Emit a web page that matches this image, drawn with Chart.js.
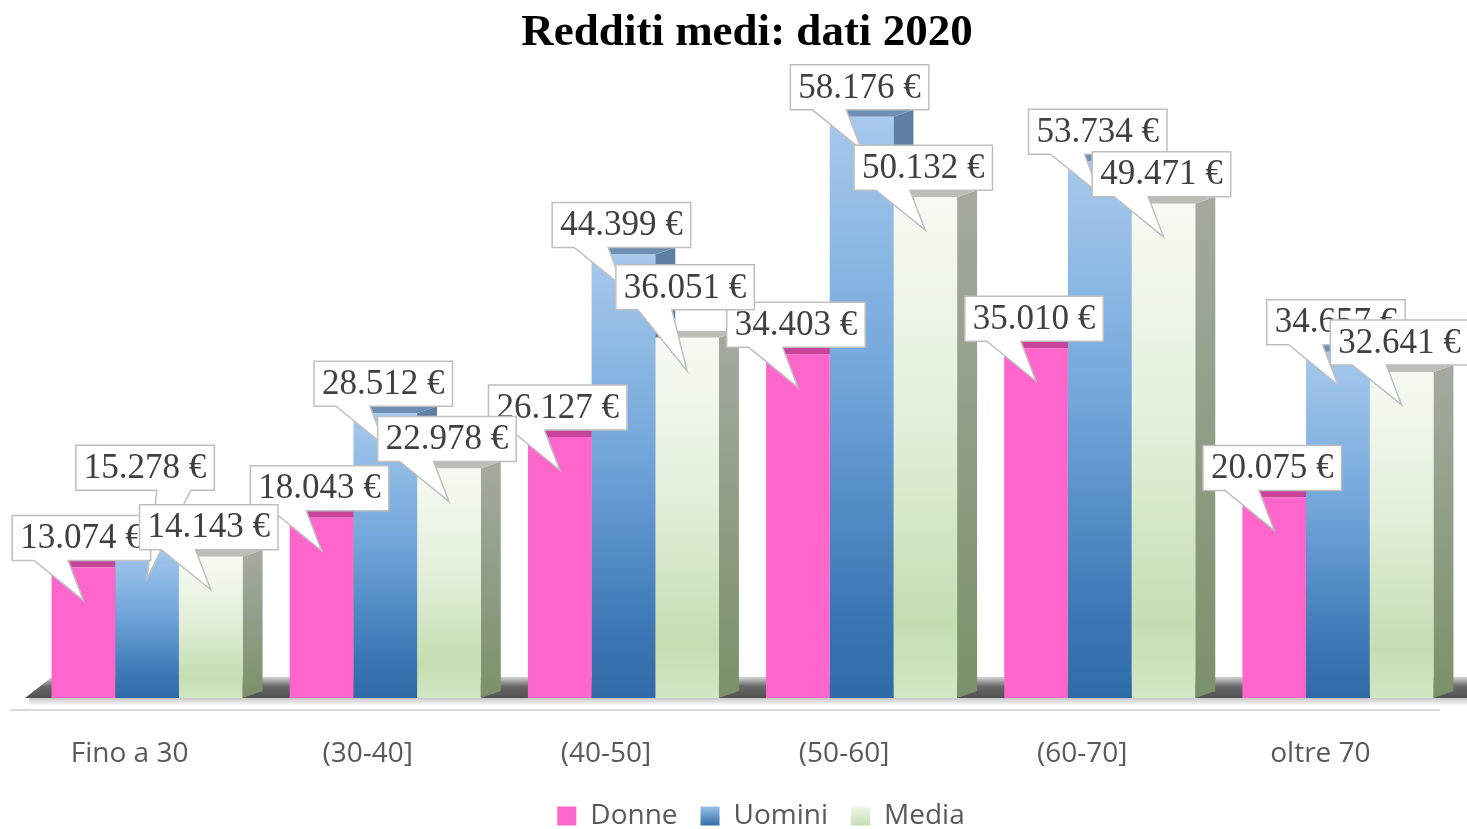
<!DOCTYPE html>
<html>
<head>
<meta charset="utf-8">
<script src="https://cdn.jsdelivr.net/npm/chart.js@4/dist/chart.umd.min.js"></script>
<style>
  html, body { margin: 0; padding: 0; background: #ffffff; }
  #wrap { width: 1467px; height: 829px; }
</style>
</head>
<body>
<div id="wrap"><canvas id="c" width="1467" height="829"></canvas></div>
<script>
// ---- data ----
const categories = ['Fino a 30', '(30-40]', '(40-50]', '(50-60]', '(60-70]', 'oltre 70'];
const seriesNames = ['Donne', 'Uomini', 'Media'];
const donne  = [13074, 18043, 26127, 34403, 35010, 20075];
const uomini = [15278, 28512, 44399, 58176, 53734, 34657];
const media  = [14143, 22978, 36051, 50132, 49471, 32641];
const yMin = 0;
const yMax = 60000;
const titleText = 'Redditi medi: dati 2020';

// ---- layout / style (not data) ----
const calloutLift  = [[0, 0, 0, 0, 0, 0], [48, 0, 0, 0, 0, 0], [0, 0, 21, 0, 0, 0]];
const calloutBaseShift = [[0, 0, 0, 0, 0, 0], [59, 0, 0, 0, 0, 0], [0, 0, 0, 0, 0, 0]];
const calloutOrder = [1, 0, 2];
const depthX = 20, depthY = 7;
const titleShiftX = -6, legendShiftX = 8;

function fmtEuro(v) {
  const th = Math.floor(v / 1000);
  const rest = String(v % 1000).padStart(3, '0');
  return th + '.' + rest + ' \u20AC';
}

function vGrad(ctx, y0, y1, stops) {
  const g = ctx.createLinearGradient(0, y0, 0, y1);
  stops.forEach(s => g.addColorStop(s[0], s[1]));
  return g;
}
const blueStops  = [[0, '#a6c9ec'], [0.45, '#72a6db'], [0.85, '#3b77b4'], [1, '#2f6ba6']];
const greenStops = [[0, '#f6faf3'], [0.45, '#e3efda'], [0.85, '#c4deb2'], [1, '#d2e7c4']];
const legendStops = [null, [[0, '#9cc3ea'], [1, '#2f6ba6']], [[0, '#eef6e9'], [1, '#c4deb2']]];

function barFill(stops) {
  return (ctx) => {
    const chart = ctx.chart;
    const area = chart.chartArea;
    if (!area || ctx.raw === undefined) return stops[1][1];
    const top = chart.scales.y.getPixelForValue(ctx.raw);
    return vGrad(chart.ctx, top, area.bottom, stops);
  };
}

const threeD = {
  id: 'threeD',
  afterLayout(chart) {
    if (chart.titleBlock) { chart.titleBlock.left += titleShiftX; chart.titleBlock.right += titleShiftX; }
    if (chart.legend) {
      chart.legend.left += legendShiftX; chart.legend.right += legendShiftX;
      if (chart.legend.legendHitBoxes) chart.legend.legendHitBoxes.forEach(h => { h.left += legendShiftX; });
    }
  },
  beforeDatasetsDraw(chart) {
    const c = chart.ctx;
    const a = chart.chartArea;
    c.save();
    // floor
    const fy = a.bottom, fdy = 21, fdx = 27;
    const fl = a.left - 3;
    c.beginPath();
    c.moveTo(fl, fy);
    c.lineTo(chart.width + 40, fy);
    c.lineTo(chart.width + 40, fy - fdy);
    c.lineTo(fl + fdx, fy - fdy);
    c.closePath();
    c.fillStyle = vGrad(c, fy, fy - fdy, [[0, '#515151'], [0.55, '#686868'], [1, '#d4d4d4']]);
    c.fill();
    // soft shadow under front edge
    c.fillStyle = vGrad(c, fy, fy + 8, [[0, 'rgba(0,0,0,0.22)'], [1, 'rgba(0,0,0,0)']]);
    c.fillRect(fl + 4, fy, chart.width, 8);
    // baseline line
    c.strokeStyle = '#d9d9d9';
    c.lineWidth = 2;
    c.beginPath();
    c.moveTo(10, fy + 12);
    c.lineTo(1440, fy + 12);
    c.stroke();

    // side and top faces
    const sideCols = [
      ['#b0307e', '#b0307e'],
      ['#5f7fa2', '#3f6285'],
      ['#a3a99f', '#7b9169']
    ];
    const topCols = ['#c8449a', '#6f8fb2', '#babeb7'];
    chart.data.datasets.forEach((ds, di) => {
      const meta = chart.getDatasetMeta(di);
      meta.data.forEach((bar) => {
        const p = bar.getProps(['x', 'y', 'base', 'width'], true);
        const l = p.x - p.width / 2, r = p.x + p.width / 2;
        // side
        c.beginPath();
        c.moveTo(r, p.y);
        c.lineTo(r + depthX, p.y - depthY);
        c.lineTo(r + depthX, p.base - depthY);
        c.lineTo(r, p.base);
        c.closePath();
        c.fillStyle = vGrad(c, p.y, p.base, [[0, sideCols[di][0]], [1, sideCols[di][1]]]);
        c.fill();
        // top
        c.beginPath();
        c.moveTo(l, p.y);
        c.lineTo(r, p.y);
        c.lineTo(r + depthX, p.y - depthY);
        c.lineTo(l + depthX, p.y - depthY);
        c.closePath();
        c.fillStyle = topCols[di];
        c.fill();
      });
    });
    c.restore();
  },
  afterDraw(chart) {
    const c = chart.ctx;
    c.save();
    c.font = '35px "Liberation Serif"';
    c.textAlign = 'center';
    c.textBaseline = 'middle';
    calloutOrder.forEach((di) => {
      const ds = chart.data.datasets[di];
      const meta = chart.getDatasetMeta(di);
      meta.data.forEach((bar, i) => {
        const p = bar.getProps(['x', 'y'], true);
        const txt = fmtEuro(ds.data[i]);
        const tw = c.measureText(txt).width;
        const w = tw + 16, h = 45;
        const cx = p.x - 2;
        const L = cx - w / 2, R = cx + w / 2;
        const B = p.y - 7 - calloutLift[di][i];
        const T = B - h;
        const tipX = p.x, tipY = p.y + 33;
        const b0 = L + 22 + calloutBaseShift[di][i], b1 = b0 + 34;
        c.beginPath();
        c.moveTo(L, T);
        c.lineTo(R, T);
        c.lineTo(R, B);
        c.lineTo(b1, B);
        c.lineTo(tipX, tipY);
        c.lineTo(b0, B);
        c.lineTo(L, B);
        c.closePath();
        c.fillStyle = '#ffffff';
        c.fill();
        c.strokeStyle = '#bfbfbf';
        c.lineWidth = 1.5;
        c.stroke();
        c.fillStyle = '#404040';
        c.fillText(txt, cx, (T + B) / 2 + 1);
      });
    });
    c.restore();
  }
};

new Chart(document.getElementById('c'), {
  type: 'bar',
  data: {
    labels: categories,
    datasets: [
      { label: seriesNames[0], data: donne, backgroundColor: '#ff66cc', borderWidth: 0 },
      { label: seriesNames[1], data: uomini, backgroundColor: barFill(blueStops), borderWidth: 0 },
      { label: seriesNames[2], data: media, backgroundColor: barFill(greenStops), borderWidth: 0 }
    ]
  },
  options: {
    responsive: false,
    animation: false,
    devicePixelRatio: 1,
    datasets: { bar: { barPercentage: 1, categoryPercentage: 0.802 } },
    layout: { padding: { left: 28, right: -11, top: 0, bottom: 0 } },
    scales: {
      x: {
        type: 'category',
        offset: true,
        grid: { display: false, drawTicks: false },
        border: { display: false },
        ticks: {
          font: { family: 'Open Sans', size: 28 },
          color: '#595959',
          padding: 39,
          labelOffset: -17.5,
          maxRotation: 0,
          autoSkip: false
        },
        afterFit(s) { s.height = 81; }
      },
      y: {
        position: 'right',
        min: yMin,
        max: yMax,
        grid: { display: false, drawTicks: false },
        border: { display: false },
        ticks: { display: false },
        afterFit(s) { s.width = 21; }
      }
    },
    plugins: {
      title: {
        display: true,
        text: titleText,
        color: '#000000',
        font: { family: 'Liberation Serif', size: 45, weight: 'bold' },
        padding: { top: 6, bottom: 38.6 }
      },
      legend: {
        position: 'bottom',
        maxHeight: 50,
        labels: {
          boxWidth: 19,
          boxHeight: 19,
          padding: 23,
          color: '#595959',
          font: { family: 'Open Sans', size: 28 },
          generateLabels(chart) {
            const items = Chart.defaults.plugins.legend.labels.generateLabels(chart);
            items.forEach((it, k) => {
              if (legendStops[k]) it.fillStyle = vGrad(chart.ctx, 806, 826, legendStops[k]);
            });
            return items;
          }
        }
      },
      tooltip: { enabled: false }
    }
  },
  plugins: [threeD]
});
</script>
</body>
</html>
